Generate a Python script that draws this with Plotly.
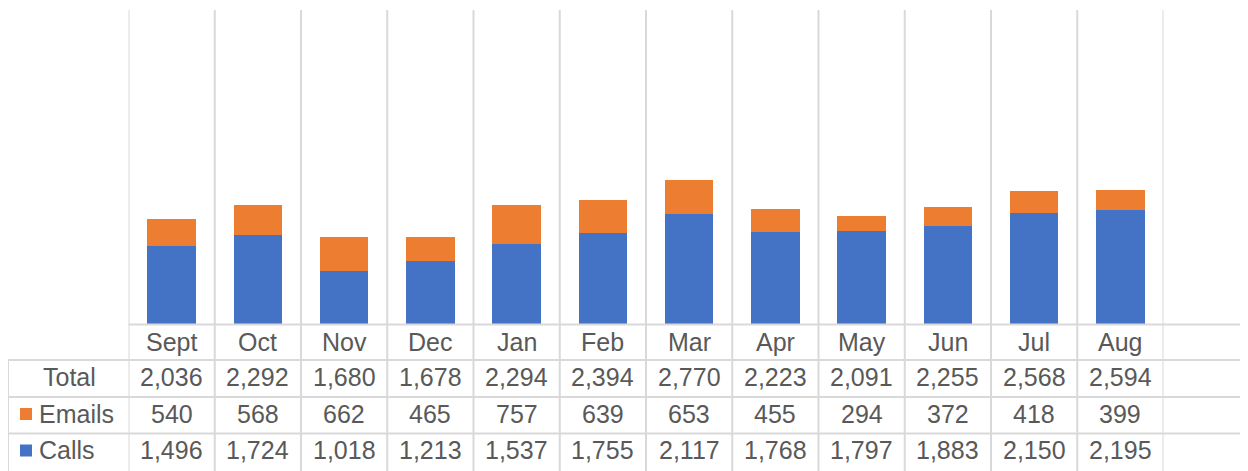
import plotly.graph_objects as go

months = ["Sept", "Oct", "Nov", "Dec", "Jan", "Feb", "Mar", "Apr", "May", "Jun", "Jul", "Aug"]
calls = [1496, 1724, 1018, 1213, 1537, 1755, 2117, 1768, 1797, 1883, 2150, 2195]
emails = [540, 568, 662, 465, 757, 639, 653, 455, 294, 372, 418, 399]
totals = [2036, 2292, 1680, 1678, 2294, 2394, 2770, 2223, 2091, 2255, 2568, 2594]

# the page body has an 8px margin, so the figure is 8px smaller and coordinates are shifted
OFF = 8
W, H = 1248 - OFF, 471 - OFF
BLUE = "#4472C4"
ORANGE = "#ED7D31"
GRID = "#D9D9D9"
TXT = "#595959"
FONT = "Liberation Sans, Arial, sans-serif"
FS = 25

def px(x):
    return (x - OFF) / W

def py(y):
    return 1 - (y - OFF) / H

plot_left, plot_right = 128.5, 1163.5
plot_top, plot_bottom = 10, 324

fig = go.Figure()
fig.add_trace(go.Bar(x=months, y=calls, name="Calls", marker=dict(color=BLUE, line=dict(width=0))))
fig.add_trace(go.Bar(x=months, y=emails, name="Emails", marker=dict(color=ORANGE, line=dict(width=0))))

shapes = []
for k in range(len(months) + 1):
    shapes.append(dict(type="line", xref="x", yref="paper", x0=k - 0.5, x1=k - 0.5,
                       y0=py(plot_top), y1=py(H + OFF + 2), line=dict(color=GRID, width=2), layer="below"))
shapes.append(dict(type="line", xref="paper", yref="paper", x0=px(8), x1=px(8),
                   y0=py(360), y1=py(H + OFF + 2), line=dict(color=GRID, width=2)))
shapes.append(dict(type="line", xref="paper", yref="paper", x0=px(plot_left), x1=1,
                   y0=py(324.5), y1=py(324.5), line=dict(color=GRID, width=2)))
for yy in [360, 397, 433.5]:
    shapes.append(dict(type="line", xref="paper", yref="paper", x0=px(8), x1=1,
                       y0=py(yy), y1=py(yy), line=dict(color=GRID, width=2)))
shapes.append(dict(type="rect", xref="paper", yref="paper", x0=px(20), x1=px(32),
                   y0=py(420), y1=py(408), fillcolor=ORANGE, line=dict(width=0)))
shapes.append(dict(type="rect", xref="paper", yref="paper", x0=px(20), x1=px(32),
                   y0=py(456.5), y1=py(444.5), fillcolor=BLUE, line=dict(width=0)))

annotations = []
row_y = {"cat": 342, "Total": 377, "Emails": 413.5, "Calls": 450}

def cell(text, x, xref, y, xanchor="center"):
    annotations.append(dict(text=text, x=x, xref=xref, y=py(y), yref="paper",
                            xanchor=xanchor, yanchor="middle", showarrow=False,
                            font=dict(family=FONT, size=FS, color=TXT)))

for i, m in enumerate(months):
    cell(m, m, "x", row_y["cat"])
    cell(f"{totals[i]:,}", m, "x", row_y["Total"])
    cell(f"{emails[i]:,}", m, "x", row_y["Emails"])
    cell(f"{calls[i]:,}", m, "x", row_y["Calls"])

cell("Total", px(69), "paper", row_y["Total"])
cell("Emails", px(37), "paper", row_y["Emails"], xanchor="left")
cell("Calls", px(37), "paper", row_y["Calls"], xanchor="left")

fig.update_layout(
    width=W, height=H,
    margin=dict(l=0, r=0, t=0, b=0),
    paper_bgcolor="white", plot_bgcolor="white",
    barmode="stack", bargap=0.44,
    showlegend=False,
    xaxis=dict(domain=[px(plot_left), px(plot_right)], range=[-0.5, 11.5],
               showticklabels=False, showgrid=False, zeroline=False, showline=False, ticks=""),
    yaxis=dict(domain=[py(plot_bottom), py(plot_top)], range=[0, 6060],
               showticklabels=False, showgrid=False, zeroline=False, showline=False, ticks=""),
    shapes=shapes,
    annotations=annotations,
)

fig.write_html("out.html")
